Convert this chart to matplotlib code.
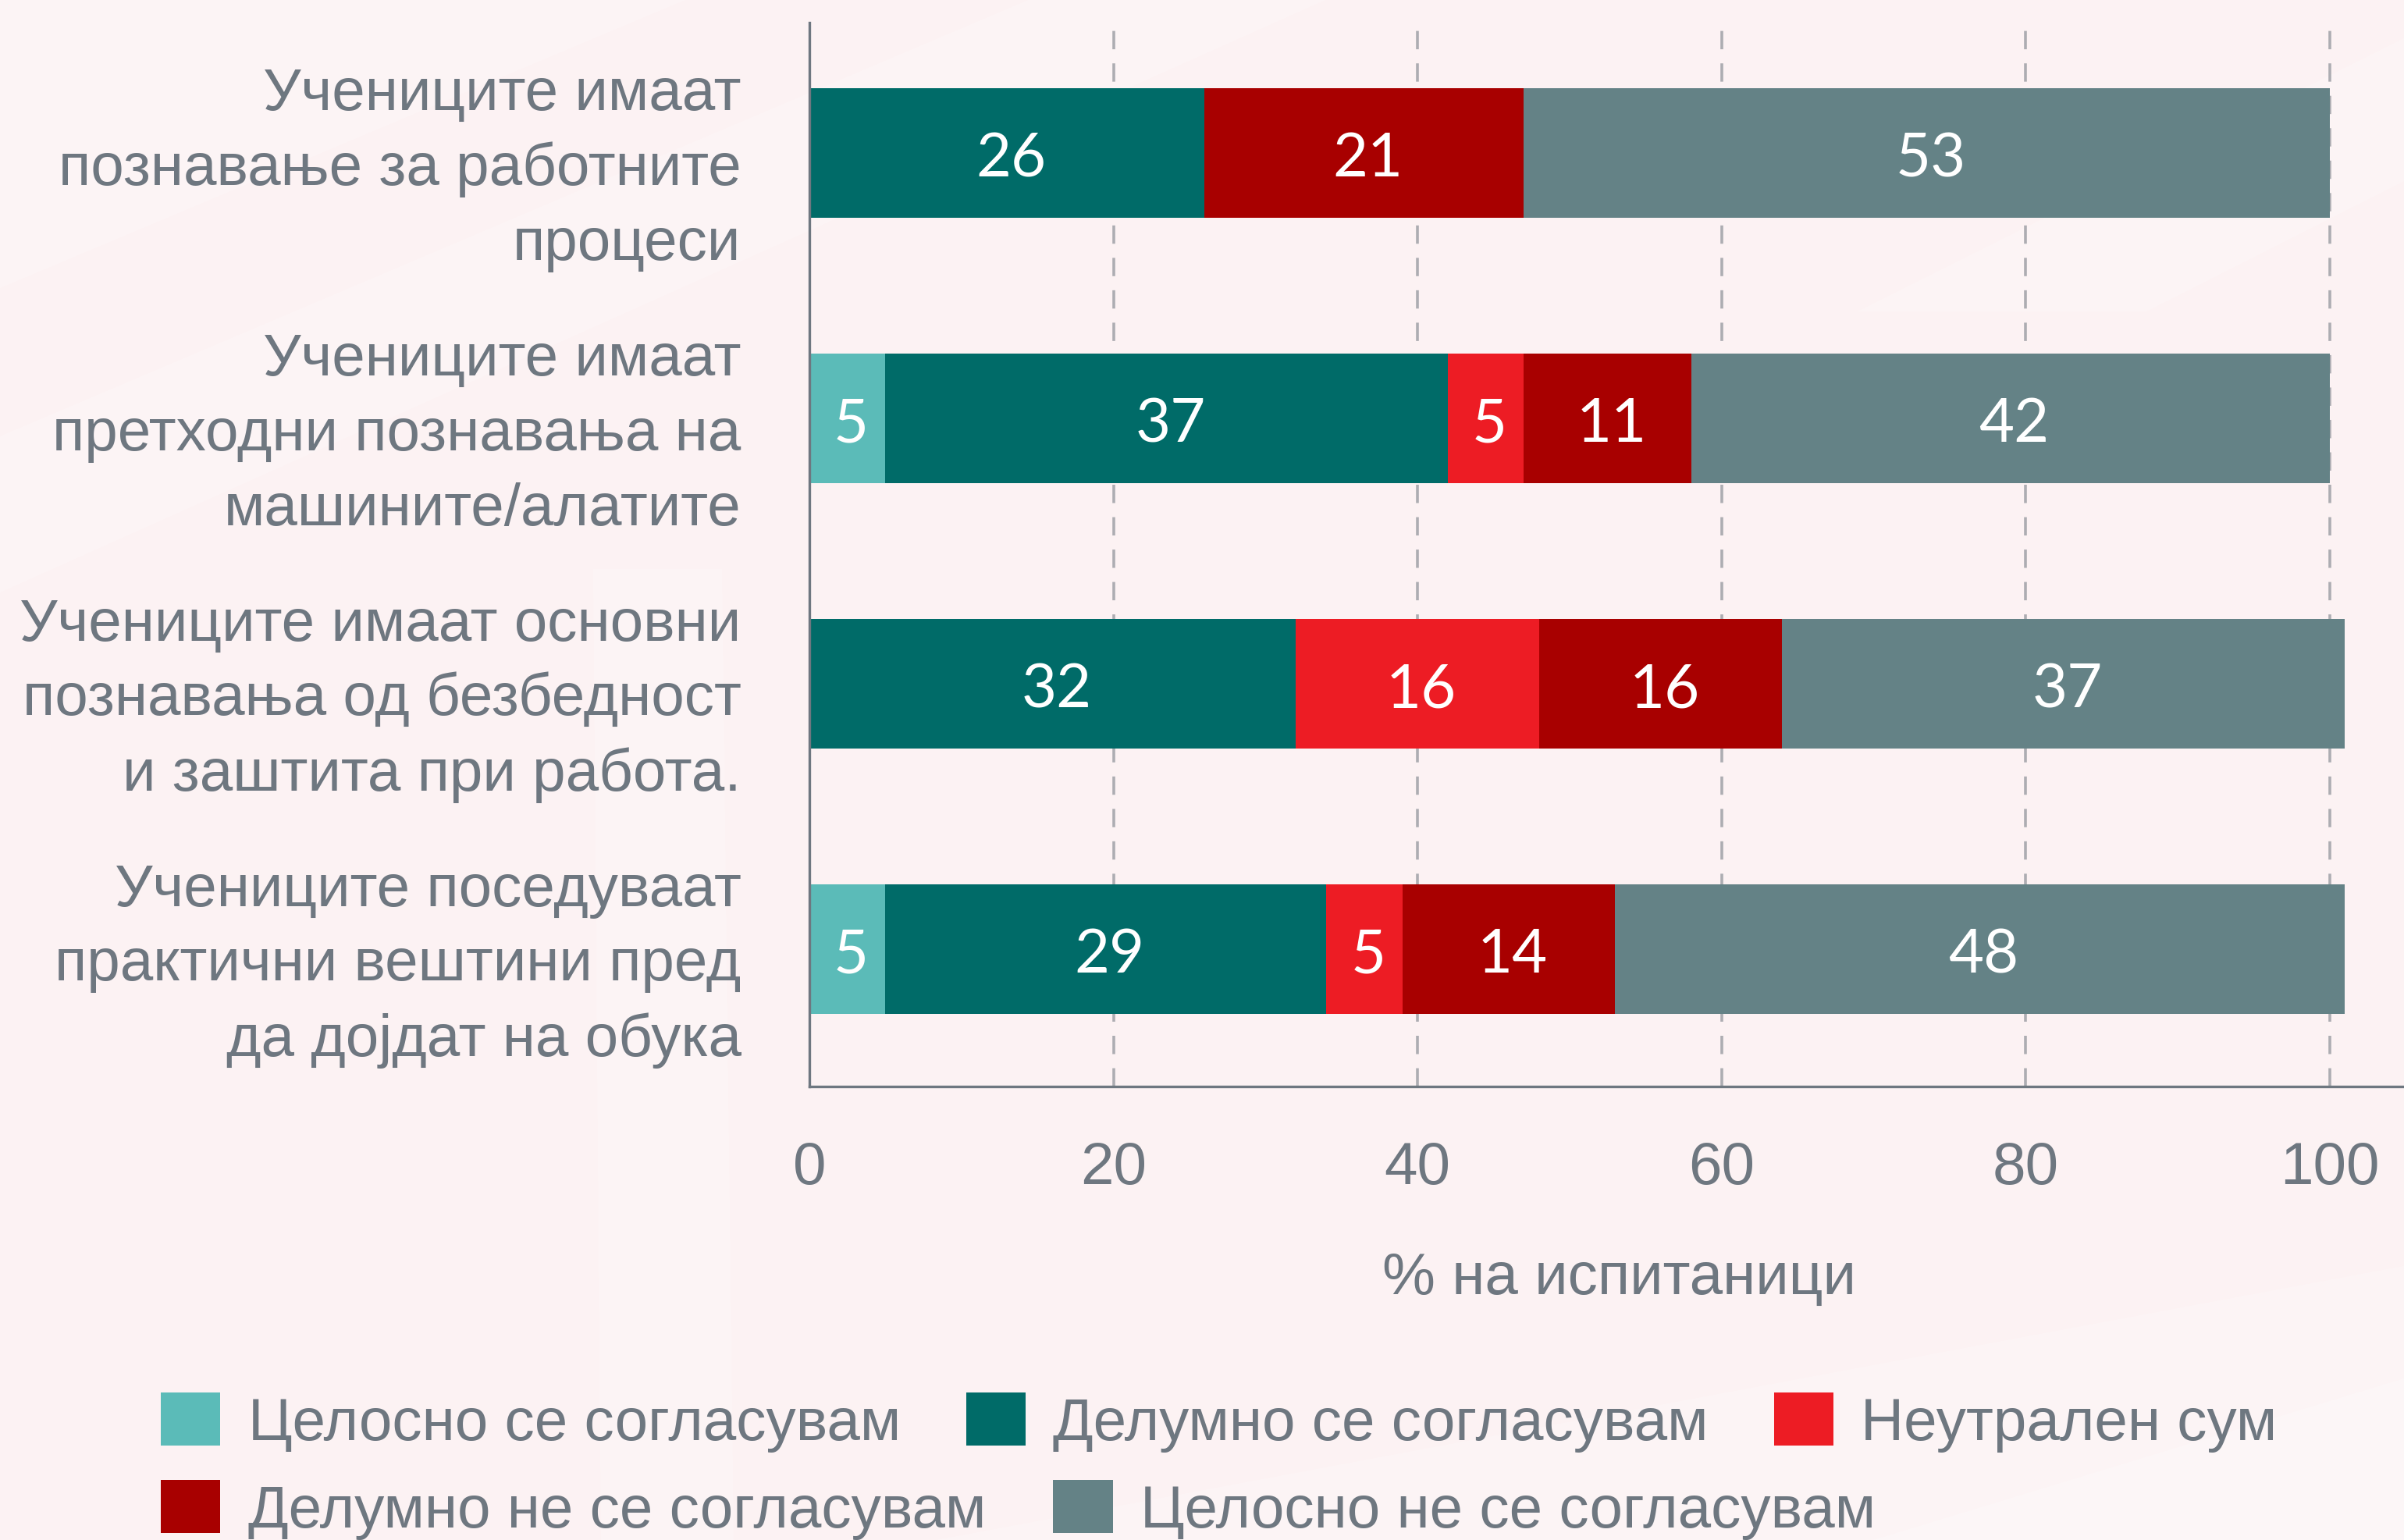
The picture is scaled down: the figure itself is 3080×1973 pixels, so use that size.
import numpy as np
import matplotlib.pyplot as plt
from matplotlib.patches import Polygon, Patch
from matplotlib.transforms import offset_copy

categories = [
    "Учениците имаат\nпознавање за работните\nпроцеси",
    "Учениците имаат\nпретходни познавања на\nмашините/алатите",
    "Учениците имаат основни\nпознавања од безбедност\nи заштита при работа.",
    "Учениците поседуваат\nпрактични вештини пред\nда дојдат на обука",
]
series_names = [
    "Целосно се согласувам",
    "Делумно се согласувам",
    "Неутрален сум",
    "Делумно не се согласувам",
    "Целосно не се согласувам",
]
values = np.array([
    [0, 26, 0, 21, 53],
    [5, 37, 5, 11, 42],
    [0, 32, 16, 16, 37],
    [5, 29, 5, 14, 48],
])
colors = ["#5BBBB8", "#006B68", "#ED1C24", "#A80000", "#648286"]
ticks = [0, 20, 40, 60, 80, 100]

BG = "#FCF2F3"
TXT = "#6E7780"
W, H = 3080, 1974

fig = plt.figure(figsize=(W / 100, H / 100), dpi=100, facecolor=BG)

# faint decorative shapes behind everything (pixel coords, y down)
bg = fig.add_axes([0, 0, 1, 1], zorder=-10)
bg.set_xlim(0, W)
bg.set_ylim(H, 0)
bg.axis("off")
shapes = [
    [(0, 0), (880, 0), (0, 370)],
    [(0, 560), (1320, 0), (1700, 0), (0, 760)],
    [(2380, 400), (3080, 50), (3080, 233), (2750, 400)],
    [(1200, 1974), (3080, 1623), (3080, 1974)],
    [(2400, 1974), (3080, 1767), (3080, 1974)],
    [(760, 730), (925, 730), (940, 1974), (770, 1974)],
]
for s in shapes:
    bg.add_patch(Polygon(s, closed=True, facecolor="white", alpha=0.22, edgecolor="none"))

ax = fig.add_axes([1037 / W, 1 - 1393 / H, 1 - 1037 / W, (1393 - 30) / H])
ax.set_facecolor("none")

y = np.arange(len(categories))
left = np.zeros(len(categories))
num_tr = offset_copy(ax.transData, fig=fig, x=5, y=-8, units="dots")
for j, name in enumerate(series_names):
    vals = values[:, j]
    ax.barh(y, vals, left=left, height=0.49, color=colors[j], label=name, zorder=3)
    for i in range(len(categories)):
        if vals[i] > 0:
            ax.text(left[i] + vals[i] / 2, y[i], str(vals[i]), ha="center", va="center",
                    color="white", fontsize=56, family="Lato", zorder=4, transform=num_tr)
    left = left + vals

ax.set_xlim(0, 104.9)
ax.set_ylim(3.518, -0.491)
ax.set_yticks(y)
ax.set_yticklabels(categories, family="Liberation Sans", fontsize=55, color=TXT,
                   linespacing=1.45, ha="right")
ax.set_xticks(ticks)
ax.set_xticklabels([str(t) for t in ticks], family="Liberation Sans", fontsize=55, color=TXT)
ax.tick_params(axis="both", length=0)
ax.tick_params(axis="x", pad=50)
ax.tick_params(axis="y", pad=63)

for t in ticks[1:]:
    ax.axvline(t, color="#ADADB2", lw=2.6, ls=(0, (6.5, 5)), zorder=1)

for side in ["top", "right"]:
    ax.spines[side].set_visible(False)
for side in ["left", "bottom"]:
    ax.spines[side].set_color(TXT)
    ax.spines[side].set_linewidth(2.4)
    ax.spines[side].set_zorder(5)

ax.set_xlabel("% на испитаници", family="Liberation Sans", fontsize=55, color=TXT, va="center")
ax.xaxis.set_label_coords(0.5 + 16 / 2043, -245 / 1363)

handles = [Patch(facecolor=c, edgecolor="none") for c in colors]
leg_kw = dict(frameon=False, loc="center left", borderaxespad=0, borderpad=0,
              handlelength=1.0, handleheight=1.0, handletextpad=0.46,
              prop={"family": "Liberation Sans", "size": 55}, labelcolor=TXT)
leg1 = fig.legend(handles[:3], series_names[:3], ncol=3, columnspacing=1.1,
                  bbox_to_anchor=(206 / W, 1 - 1823 / H), **leg_kw)
leg2 = fig.legend(handles[3:], series_names[3:], ncol=2, columnspacing=1.13,
                  bbox_to_anchor=(206 / W, 1 - 1935 / H), **leg_kw)

fig.savefig("out.png", dpi=100, facecolor=BG)
